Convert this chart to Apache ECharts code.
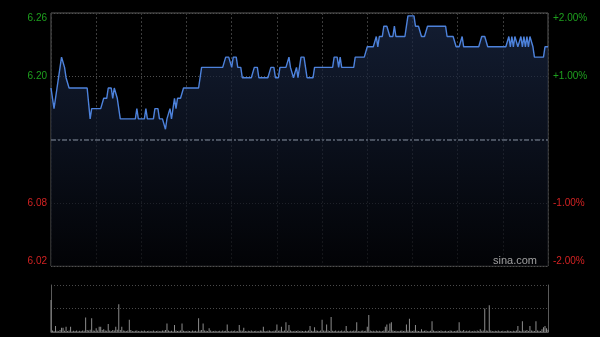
<!DOCTYPE html>
<html>
<head>
<meta charset="utf-8">
<script src="https://cdn.jsdelivr.net/npm/echarts@6/dist/echarts.min.js"></script>
<style>
html,body{margin:0;padding:0;background:#000;}
#c{width:600px;height:337px;}
</style>
</head>
<body>
<div id="c"></div>
<script>
// ---- data ----
const prevClose = 6.14;
// minute index 0..330 (HK session 09:30-12:00, 13:00-16:00)
const price = [
  6.19,6.18,6.17,6.18,6.19,6.20,6.21,6.22,6.22,6.21,6.20,6.20,              // 0-11
  6.19,6.19,6.19,6.19,6.19,6.19,6.19,6.19,6.19,6.19,6.19,6.19,6.19,6.19,    // 12-25
  6.16,6.17,6.17,6.17,6.17,6.17,6.17,6.17,6.17,                             // 26-34
  6.18,6.18,6.18,6.19,6.19,6.19,6.18,6.19,6.19,6.18,6.17,                   // 35-45
  6.16,6.16,6.16,6.16,6.16,6.16,6.16,6.16,6.16,6.16,6.16,                   // 46-56
  6.17,6.16,6.16,6.16,6.16,6.16,6.17,6.16,6.16,6.16,6.16,6.16,              // 57-68
  6.17,6.17,6.17,6.16,6.16,6.16,6.16,6.15,6.16,6.16,6.17,6.16,6.16,         // 69-81
  6.18,6.17,6.18,6.18,6.18,6.18,                                            // 82-87
  6.19,6.19,6.19,6.19,6.19,6.19,6.19,6.19,6.19,6.19,6.19,6.20,              // 88-99
  6.21,6.21,6.21,6.21,6.21,6.21,6.21,6.21,6.21,6.21,6.21,6.21,6.21,6.21,6.21,6.21, // 100-115
  6.22,6.22,6.22,6.22,6.21,6.22,6.22,6.22,6.21,6.21,6.21,                   // 116-126
  6.20,6.20,6.20,6.20,6.20,6.20,6.20,6.20,6.21,6.21,6.21,                   // 127-137
  6.20,6.20,6.20,6.20,6.20,6.20,6.20,6.20,6.21,6.21,6.21,6.20,6.20,6.20,    // 138-151
  6.21,6.21,6.21,6.21,6.21,6.21,6.22,6.21,6.21,6.20,6.20,6.21,6.20,6.21,    // 152-165
  6.22,6.22,6.22,6.21,6.20,6.20,6.20,6.20,6.20,                             // 166-174
  6.21,6.21,6.21,6.21,6.21,6.21,6.21,6.21,6.21,6.21,6.21,6.21,6.21,         // 175-187
  6.22,6.22,6.22,6.21,6.22,6.21,6.21,6.21,6.21,6.21,6.21,6.21,6.21,6.21,    // 188-201
  6.22,6.22,6.22,6.22,6.22,6.22,6.22,6.22,                                  // 202-209
  6.23,6.23,6.23,6.23,6.23,6.23,6.24,6.23,6.24,6.24,6.24,                   // 210-220
  6.25,6.25,6.25,6.25,6.24,6.24,6.24,6.25,6.24,6.24,6.24,6.24,6.24,6.24,6.24,6.25, // 221-236
  6.26,6.26,6.26,6.26,6.26,6.25,6.25,6.25,6.25,6.24,6.24,6.24,6.24,         // 237-249
  6.25,6.25,6.25,6.25,6.25,6.25,6.25,6.25,6.25,6.25,6.25,6.25,6.25,         // 250-262
  6.24,6.24,6.24,6.24,6.24,6.24,6.23,6.23,6.23,6.23,6.24,                   // 263-273
  6.23,6.23,6.23,6.23,6.23,6.23,6.23,6.23,6.23,6.23,6.23,6.23,              // 274-285
  6.24,6.24,6.24,6.24,                                                      // 286-289
  6.23,6.23,6.23,6.23,6.23,6.23,6.23,6.23,6.23,6.23,6.23,6.23,6.23,6.23,    // 290-303
  6.24,6.23,6.24,6.23,6.24,6.24,6.23,6.23,6.24,6.23,6.24,6.23,6.24,6.23,6.24,6.24,6.23, // 304-320
  6.22,6.22,6.22,6.22,6.22,6.22,6.22,6.23,6.23,6.23                         // 321-330
];
const volume = [
  136,6,4,26,5,3,8,18,18,5,
  22,4,6,22,3,5,4,6,3,5,
  4,6,5,62,8,6,10,58,6,5,
  16,6,22,22,8,12,6,5,34,6,
  4,8,6,22,10,118,8,22,6,5,
  4,6,52,8,4,3,5,6,4,3,
  5,4,6,3,4,5,3,4,6,3,
  4,5,3,4,6,5,8,36,6,4,
  5,3,30,6,4,5,6,36,5,4,
  3,5,4,3,6,4,5,3,58,6,
  8,36,6,5,4,16,6,3,4,5,
  3,4,5,3,6,4,5,32,4,3,
  5,4,6,3,4,30,6,5,18,4,
  3,5,4,6,3,4,5,3,4,6,
  5,22,4,3,5,6,4,3,5,6,
  32,5,6,22,4,6,42,5,30,6,
  4,3,5,4,6,3,5,4,3,5,
  4,6,26,5,4,20,6,5,4,6,
  52,6,5,32,6,4,64,5,4,6,
  3,5,4,6,3,5,26,4,3,5,
  4,6,5,42,4,3,5,6,4,5,
  22,72,6,4,5,3,6,4,5,3,
  4,6,22,32,5,36,42,6,4,5,
  3,4,5,6,4,5,32,6,56,5,
  4,6,30,5,4,3,12,4,5,6,
  3,4,5,46,6,4,3,5,4,6,
  3,4,5,3,4,6,5,3,4,5,
  6,42,5,4,8,3,5,4,6,3,
  4,5,3,6,4,12,5,6,100,6,
  5,114,6,4,3,5,4,6,3,4,
  5,3,4,6,5,4,3,5,4,6,
  26,5,4,46,6,5,8,4,26,6,
  5,4,46,6,5,4,12,20,26,16,
  10
];
// tick labels, bottom to top (change vs. previous close: -2%, -1%, 0, +1%, +2%)
const leftLabels  = ['6.02', '6.08', '', '6.20', '6.26'];
const rightLabels = ['-2.00%', '-1.00%', '', '+1.00%', '+2.00%'];

// ---- chart ----
const GREEN = '#1ea01e', RED = '#d22222';
const FONT = 'Liberation Sans, Arial, sans-serif';
function lbl(arr) {
  return function (v) {
    const k = Math.round(v) + 2;
    const t = arr[k] || '';
    if (!t) return '';
    return (k > 2 ? '{up|' : '{dn|') + t + '}';
  };
}
const rich = {
  up: { color: GREEN, fontSize: 10, fontFamily: FONT },
  dn: { color: RED, fontSize: 10, fontFamily: FONT }
};

const chart = echarts.init(document.getElementById('c'), null, { renderer: 'canvas' });
chart.setOption({
  backgroundColor: '#000',
  animation: false,
  grid: [
    { left: 51, top: 13, width: 497, height: 253, show: true, borderColor: '#5a5a5a', borderWidth: 1, backgroundColor: 'transparent' },
    { left: 51, top: 285, width: 497, height: 47, show: false }
  ],
  xAxis: [
    { type: 'value', gridIndex: 0, min: 0, max: 330, interval: 30,
      axisLine: { show: false }, axisTick: { show: false }, axisLabel: { show: false },
      splitLine: { show: true, lineStyle: { color: '#3c3c3c', type: [2, 2], width: 1 } } },
    { type: 'value', gridIndex: 1, min: 0, max: 330, interval: 30,
      axisLine: { show: true, lineStyle: { color: '#5a5a5a', width: 1 } }, axisTick: { show: false },
      axisLabel: { show: false }, splitLine: { show: false } }
  ],
  yAxis: [
    { type: 'value', gridIndex: 0, position: 'left', min: -2, max: 2, interval: 1,
      axisLine: { show: false }, axisTick: { show: false },
      axisLabel: { formatter: lbl(leftLabels), rich: rich, margin: 4,
        verticalAlignMaxLabel: 'top', verticalAlignMinLabel: 'bottom' },
      splitLine: { show: true, lineStyle: { color: '#505050', type: [1, 2], width: 1 } } },
    { type: 'value', gridIndex: 0, position: 'right', min: -2, max: 2, interval: 1,
      axisLine: { show: false }, axisTick: { show: false },
      axisLabel: { formatter: lbl(rightLabels), rich: rich, margin: 5,
        verticalAlignMaxLabel: 'top', verticalAlignMinLabel: 'bottom' },
      splitLine: { show: false } },
    { type: 'value', gridIndex: 1, position: 'left', min: 0, max: 200, interval: 100,
      axisLine: { show: true, lineStyle: { color: '#5a5a5a', width: 1 } }, axisTick: { show: false },
      axisLabel: { show: false },
      splitLine: { show: true, lineStyle: { color: '#4a4a4a', type: [1, 2], width: 1 } } },
    { type: 'value', gridIndex: 1, position: 'right', min: 0, max: 200, interval: 100,
      axisLine: { show: true, lineStyle: { color: '#5a5a5a', width: 1 } }, axisTick: { show: false },
      axisLabel: { show: false }, splitLine: { show: false } }
  ],
  series: [
    {
      type: 'line', xAxisIndex: 0, yAxisIndex: 0,
      data: price.map((p, i) => [i, (p / prevClose - 1) * 100]),
      showSymbol: false, symbol: 'none',
      lineStyle: { color: '#4d82dc', width: 1.4 },
      areaStyle: {
        origin: 'start',
        color: new echarts.graphic.LinearGradient(0, 0, 0, 1, [
          { offset: 0, color: '#1b2947' },
          { offset: 1, color: '#030408' }
        ])
      },
      markLine: {
        silent: true, symbol: 'none', label: { show: false },
        lineStyle: { color: '#5f6776', type: [5, 2, 2, 2], width: 1.5 },
        data: [{ yAxis: 0 }]
      },
      z: 3
    },
    {
      type: 'bar', xAxisIndex: 1, yAxisIndex: 2,
      data: volume.map((v, i) => [i, v]),
      barWidth: 1,
      itemStyle: { color: '#8c8c8c' }
    }
  ],
  graphic: [
    { type: 'text', right: 63, top: 255, z: 10,
      style: { text: 'sina.com', fill: '#a0a0a0', font: '11px ' + FONT } }
  ]
});
</script>
</body>
</html>
